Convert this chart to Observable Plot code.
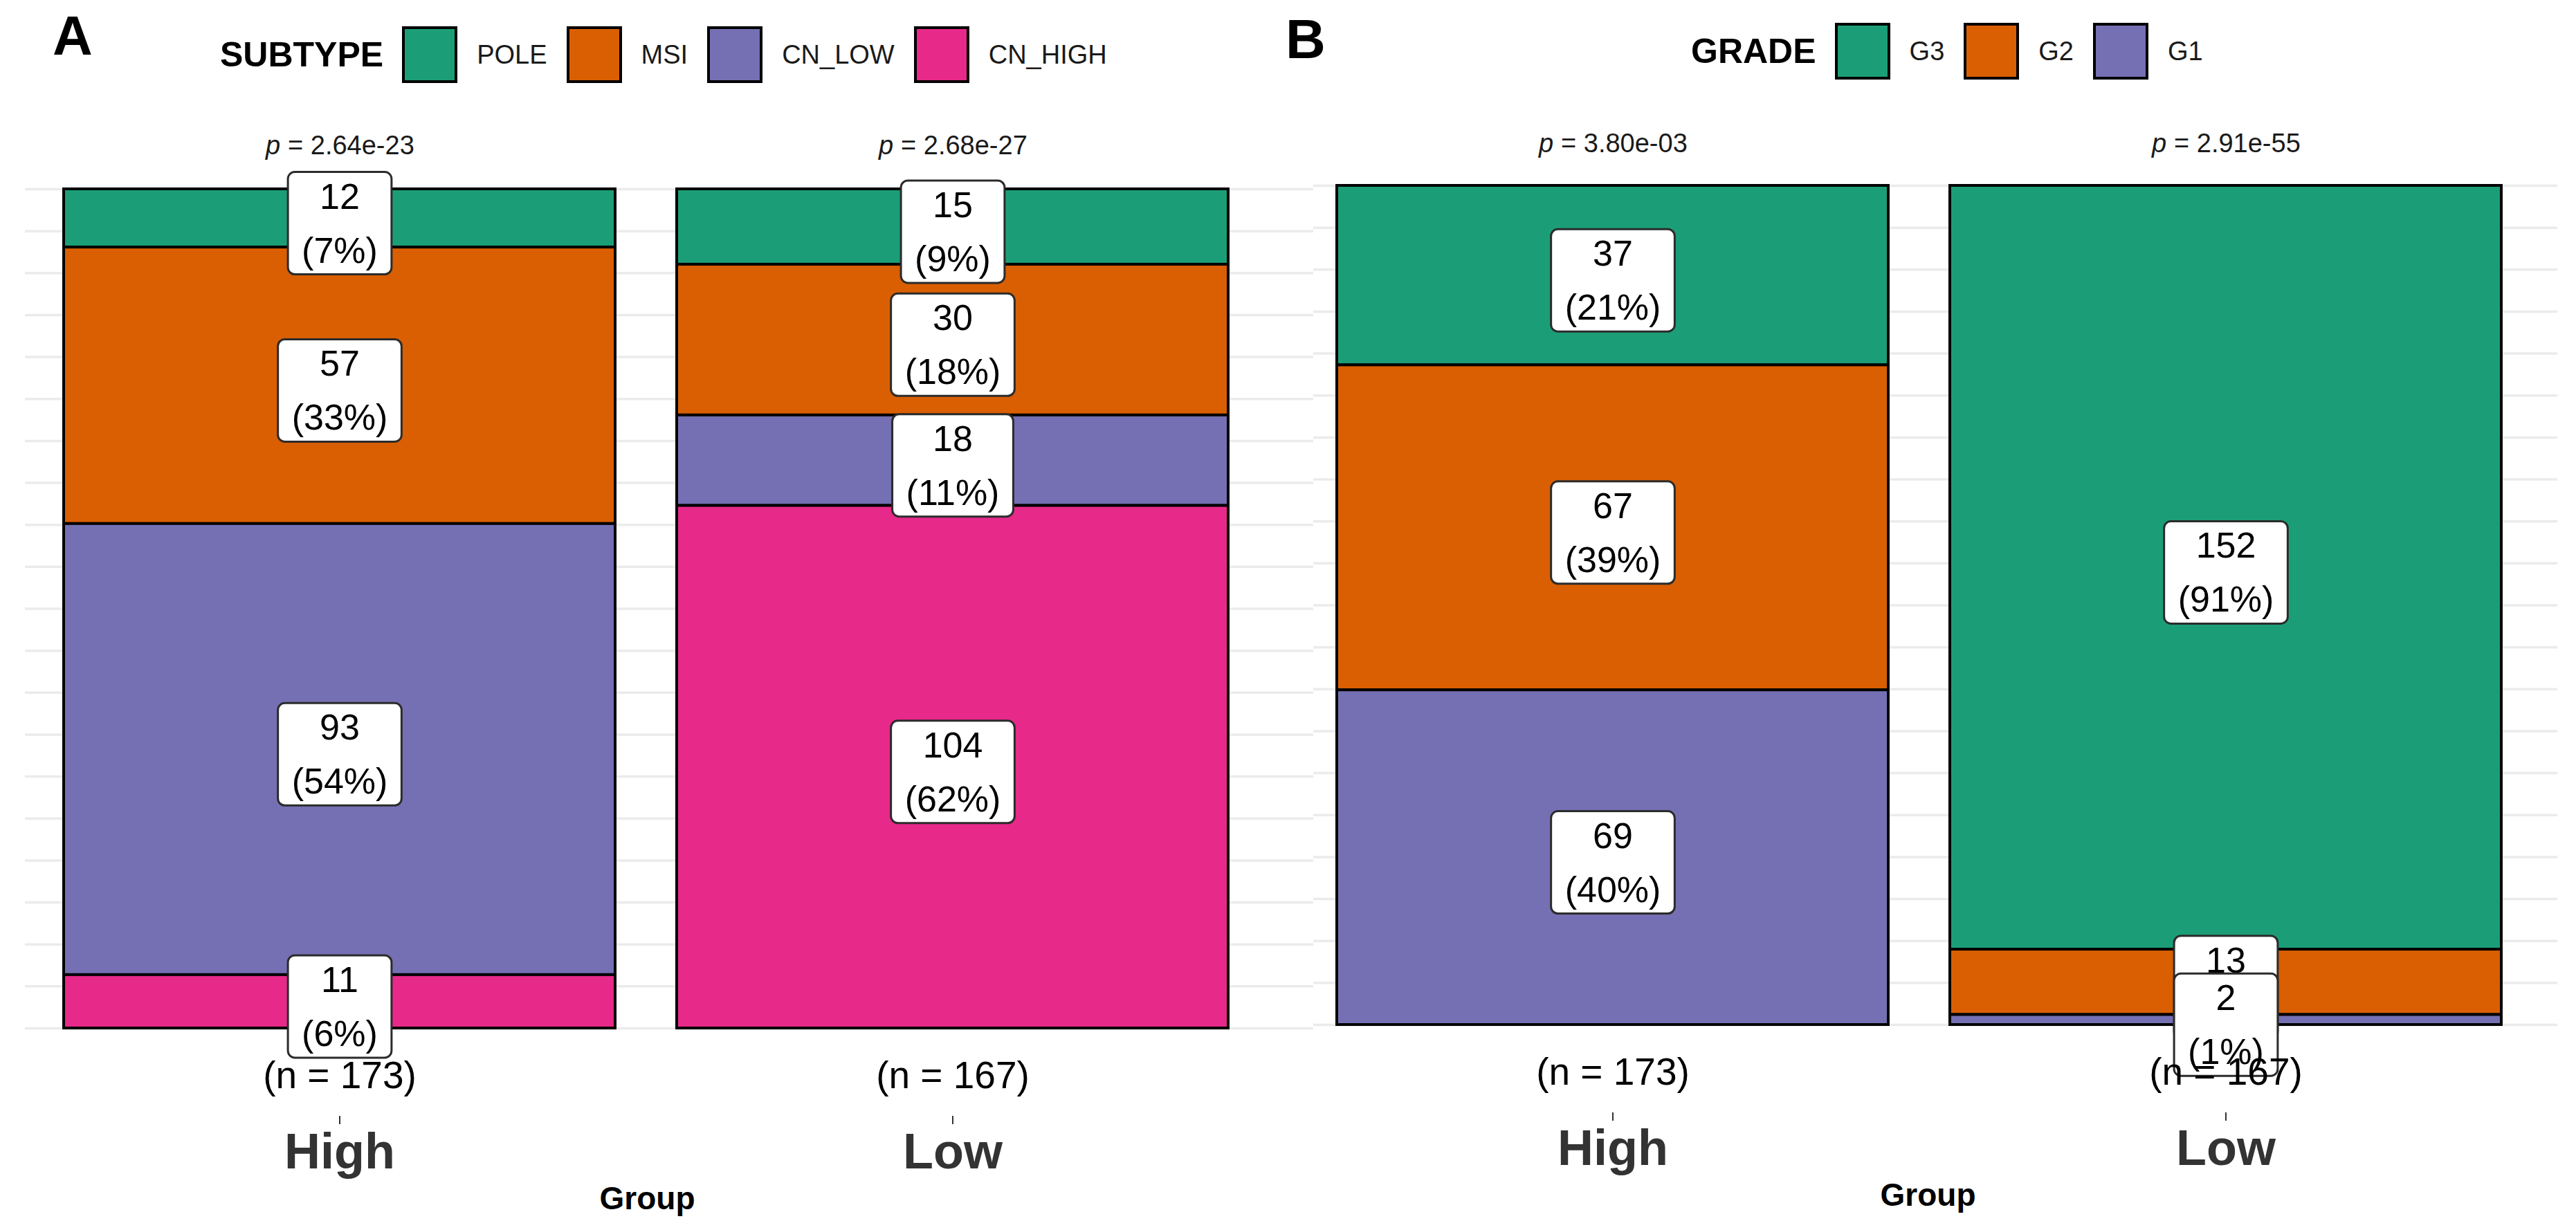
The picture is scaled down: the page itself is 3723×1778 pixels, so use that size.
<!DOCTYPE html>
<html>
<head>
<meta charset="utf-8">
<script src="https://cdn.jsdelivr.net/npm/d3@7"></script>
<script src="https://cdn.jsdelivr.net/npm/@observablehq/plot@0.6"></script>
<style>
  body { margin: 0; background: #fff; font-family: "Liberation Sans", Arial, Helvetica, sans-serif; }
  #root { position: relative; width: 3723px; height: 1778px; overflow: hidden; background: #fff; }
  .tag { position: absolute; font-weight: bold; font-size: 80px; line-height: 1; color: #000; }
  .legend { position: absolute; display: flex; align-items: center; height: 82px; }
  .legend .title { font-weight: bold; font-size: 50px; color: #000; margin-right: 27px; }
  .legend .sw { width: 80px; height: 82px; box-sizing: border-box; border: 4px solid #000; margin-right: 28px; }
  .legend .lab { font-size: 38px; color: #1a1a1a; margin-right: 28px; }
  .panel { position: absolute; top: 150px; }
</style>
</head>
<body>
<div id="root"></div>
<script>
// ---- data ----
const groups = ["High", "Low"];

const subtypes = ["POLE", "MSI", "CN_LOW", "CN_HIGH"];
const subtypeHigh = [12, 57, 93, 11];
const subtypeLow = [15, 30, 18, 104];
const subtypeColors = ["#1B9E77", "#D95F02", "#7570B3", "#E7298A"];
const subtypeN = [173, 167];
const subtypeP = ["2.64e-23", "2.68e-27"];

const grades = ["G3", "G2", "G1"];
const gradeHigh = [37, 67, 69];
const gradeLow = [152, 13, 2];
const gradeColors = ["#1B9E77", "#D95F02", "#7570B3"];
const gradeN = [173, 167];
const gradeP = ["3.80e-03", "2.91e-55"];

const FONT = '"Liberation Sans", Arial, Helvetica, sans-serif';
const root = document.getElementById("root");

function makeRows(cats, highVals, lowVals) {
  const rows = [];
  [highVals, lowVals].forEach((vals, gi) => {
    const total = d3.sum(vals);
    cats.forEach((c, i) => rows.push({group: groups[gi], key: c, count: vals[i], pct: Math.round(vals[i] / total * 100)}));
  });
  return rows;
}

function chart(o) {
  const rows = makeRows(o.cats, o.high, o.low);
  const order = o.cats.slice().reverse();
  const info = groups.map((g, i) => ({group: g, n: o.ns[i], p: o.ps[i]}));
  const H = 1628, PH = 1213;
  return Plot.plot({
    width: o.width, height: H,
    marginLeft: o.ml, marginRight: o.mr, marginTop: o.mt, marginBottom: H - o.mt - PH,
    style: {fontFamily: FONT, background: "transparent", overflow: "visible", color: "#333"},
    x: {domain: groups, paddingInner: 0.1, paddingOuter: o.po, align: o.align, axis: null},
    y: {domain: [0, 1], axis: null},
    color: {domain: o.cats, range: o.colors},
    marks: [
      Plot.gridY({ticks: 20, stroke: "#ebebeb", strokeOpacity: 1, strokeWidth: 3.5}),
      Plot.barY(rows, {x: "group", y: "count", fill: "key", z: "key", order, offset: "normalize", stroke: "#000", strokeWidth: 4}),
      Plot.text(rows, Plot.stackY({
        x: "group", y: "count", z: "key", order, offset: "normalize",
        text: d => `${d.count}\n(${d.pct}%)`,
        fontSize: 52, lineHeight: 1.5, fill: "#000"
      })),
      Plot.text(info, {x: "group", frameAnchor: "top", lineAnchor: "middle", dy: o.pdy, text: () => "p", fontStyle: "italic", textAnchor: "start", dx: -107, fontSize: 38, fill: "#1a1a1a"}),
      Plot.text(info, {x: "group", frameAnchor: "top", lineAnchor: "middle", dy: o.pdy, text: d => `= ${d.p}`, textAnchor: "start", dx: -75, fontSize: 38, fill: "#1a1a1a"}),
      Plot.text(info, {x: "group", frameAnchor: "bottom", lineAnchor: "middle", dy: 69, text: d => `(n = ${d.n})`, fontSize: 55, fill: "#000"}),
      Plot.axisX({tickSize: 12, tickPadding: 12, fontSize: 72, fontWeight: "bold", dy: 127, label: null, stroke: "#333", strokeWidth: 2}),
      Plot.text(["Group"], {frameAnchor: "bottom", lineAnchor: "middle", dy: 247, dx: o.gdx, text: d => d, fontSize: 46, fontWeight: "bold", fill: "#000"})
    ]
  });
}

// draw a rounded white box behind every segment label (label positions come from Plot's own layout)
function addBoxes(svg) {
  Array.from(svg.querySelectorAll("text"))
    .filter(t => t.textContent.includes("%)"))
    .forEach(t => {
      const bb = t.getBBox();
      const r = document.createElementNS("http://www.w3.org/2000/svg", "rect");
      r.setAttribute("x", bb.x - 20);
      r.setAttribute("y", bb.y - 6);
      r.setAttribute("width", bb.width + 40);
      r.setAttribute("height", bb.height + 12);
      r.setAttribute("rx", 10);
      r.setAttribute("fill", "#fff");
      r.setAttribute("stroke", "#2b2b2b");
      r.setAttribute("stroke-width", 3);
      const tr = t.getAttribute("transform");
      if (tr) r.setAttribute("transform", tr);
      t.parentNode.insertBefore(r, t);
    });
}

function legend(title, cats, colors, left, top) {
  const div = document.createElement("div");
  div.className = "legend";
  div.style.left = left + "px";
  div.style.top = top + "px";
  const t = document.createElement("span");
  t.className = "title"; t.textContent = title;
  div.appendChild(t);
  cats.forEach((c, i) => {
    const s = document.createElement("div");
    s.className = "sw"; s.style.background = colors[i];
    div.appendChild(s);
    const l = document.createElement("span");
    l.className = "lab"; l.textContent = c;
    div.appendChild(l);
  });
  root.appendChild(div);
}

function tag(letter, left, top) {
  const d = document.createElement("div");
  d.className = "tag"; d.textContent = letter;
  d.style.left = left + "px"; d.style.top = top + "px";
  root.appendChild(d);
}

function place(svg, left) {
  const d = document.createElement("div");
  d.className = "panel"; d.style.left = left + "px";
  d.appendChild(svg);
  root.appendChild(d);
  addBoxes(svg);
}

// Panel A
tag("A", 76, 12);
legend("SUBTYPE", subtypes, subtypeColors, 318, 38);
place(chart({cats: subtypes, high: subtypeHigh, low: subtypeLow, colors: subtypeColors, ns: subtypeN, ps: subtypeP,
  width: 1898, ml: 36, mr: 0, mt: 123, po: 0.1, align: 0.316, pdy: -63, gdx: -32}), 0);

// Panel B
tag("B", 1858, 17);
legend("GRADE", grades, gradeColors, 2444, 33);
place(chart({cats: grades, high: gradeHigh, low: gradeLow, colors: gradeColors, ns: gradeN, ps: gradeP,
  width: 1825, ml: 0, mr: 27, mt: 118, po: 0.064, align: 0.3, pdy: -61, gdx: -11}), 1898);
</script>
</body>
</html>
